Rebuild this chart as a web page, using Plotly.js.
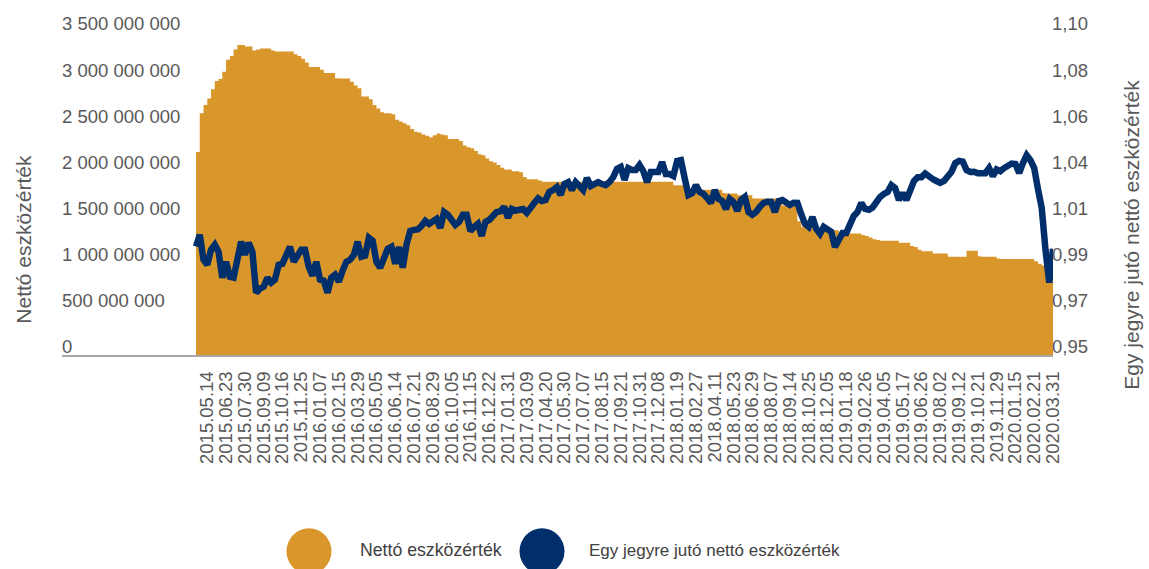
<!DOCTYPE html>
<html><head><meta charset="utf-8">
<script src="https://cdn.plot.ly/plotly-3.0.1.min.js"></script>
<style>html,body{margin:0;padding:0;background:#fff}#chart{width:1149px;height:569px}</style>
</head><body><div id="chart"></div>
<script>
const dates = [
'2015.04.23','2015.04.30','2015.05.07',
'2015.05.14','2015.05.21','2015.05.29','2015.06.05','2015.06.15',
'2015.06.23','2015.06.30','2015.07.07','2015.07.15','2015.07.22',
'2015.07.30','2015.08.07','2015.08.14','2015.08.24','2015.09.01',
'2015.09.09','2015.09.16','2015.09.23','2015.10.01','2015.10.08',
'2015.10.16','2015.10.23','2015.10.30','2015.11.09','2015.11.17',
'2015.11.25','2015.12.03','2015.12.10','2015.12.17','2015.12.29',
'2016.01.07','2016.01.14','2016.01.21','2016.01.29','2016.02.05',
'2016.02.15','2016.02.22','2016.03.01','2016.03.09','2016.03.18',
'2016.03.29','2016.04.05','2016.04.13','2016.04.20','2016.04.27',
'2016.05.05','2016.05.12','2016.05.20','2016.05.30','2016.06.06',
'2016.06.14','2016.06.21','2016.06.28','2016.07.06','2016.07.13',
'2016.07.21','2016.07.28','2016.08.04','2016.08.12','2016.08.22',
'2016.08.29','2016.09.05','2016.09.12','2016.09.20','2016.09.27',
'2016.10.05','2016.10.12','2016.10.19','2016.10.28','2016.11.07',
'2016.11.15','2016.11.22','2016.11.29','2016.12.06','2016.12.14',
'2016.12.22','2016.12.30','2017.01.09','2017.01.16','2017.01.23',
'2017.01.31','2017.02.07','2017.02.14','2017.02.21','2017.03.01',
'2017.03.09','2017.03.16','2017.03.24','2017.04.03','2017.04.10',
'2017.04.20','2017.04.27','2017.05.08','2017.05.15','2017.05.22',
'2017.05.30','2017.06.07','2017.06.14','2017.06.21','2017.06.29',
'2017.07.07','2017.07.14','2017.07.21','2017.07.31','2017.08.07',
'2017.08.15','2017.08.22','2017.08.29','2017.09.06','2017.09.13',
'2017.09.21','2017.09.28','2017.10.05','2017.10.13','2017.10.23',
'2017.10.31','2017.11.08','2017.11.15','2017.11.22','2017.11.30',
'2017.12.08','2017.12.15','2017.12.22','2018.01.04','2018.01.11',
'2018.01.19','2018.01.26','2018.02.02','2018.02.09','2018.02.19',
'2018.02.27','2018.03.06','2018.03.13','2018.03.22','2018.04.03',
'2018.04.11','2018.04.18','2018.04.25','2018.05.04','2018.05.14',
'2018.05.23','2018.05.30','2018.06.06','2018.06.13','2018.06.21',
'2018.06.29','2018.07.06','2018.07.13','2018.07.20','2018.07.30',
'2018.08.07','2018.08.14','2018.08.22','2018.08.29','2018.09.06',
'2018.09.14','2018.09.21','2018.09.28','2018.10.08','2018.10.16',
'2018.10.25','2018.11.05','2018.11.13','2018.11.20','2018.11.27',
'2018.12.05','2018.12.12','2018.12.19','2019.01.03','2019.01.10',
'2019.01.18','2019.01.25','2019.02.01','2019.02.11','2019.02.18',
'2019.02.26','2019.03.05','2019.03.12','2019.03.20','2019.03.28',
'2019.04.05','2019.04.12','2019.04.23','2019.04.30','2019.05.09',
'2019.05.17','2019.05.24','2019.06.03','2019.06.11','2019.06.18',
'2019.06.26','2019.07.03','2019.07.10','2019.07.18','2019.07.25',
'2019.08.02','2019.08.09','2019.08.16','2019.08.26','2019.09.03',
'2019.09.12','2019.09.19','2019.09.26','2019.10.03','2019.10.11',
'2019.10.21','2019.10.28','2019.11.06','2019.11.13','2019.11.20',
'2019.11.29','2019.12.06','2019.12.13','2019.12.20','2020.01.07',
'2020.01.15','2020.01.22','2020.01.29','2020.02.05','2020.02.13',
'2020.02.21','2020.02.28','2020.03.06','2020.03.13','2020.03.23',
'2020.03.31'
];

const netAssets = [
2.20e9,2.62e9,2.71e9,
2.78e9,2.88e9,2.97e9,2.99e9,3.07e9,
3.20e9,3.24e9,3.31e9,3.36e9,3.36e9,
3.344e9,3.344e9,3.30e9,3.31e9,3.32e9,
3.32e9,3.32e9,3.30e9,3.29e9,3.29e9,
3.29e9,3.29e9,3.29e9,3.26e9,3.24e9,
3.21e9,3.17e9,3.12e9,3.12e9,3.12e9,
3.09e9,3.055e9,3.055e9,3.055e9,3.00e9,
2.995e9,2.995e9,2.995e9,2.96e9,2.92e9,
2.89e9,2.80e9,2.80e9,2.77e9,2.71e9,
2.67e9,2.63e9,2.62e9,2.62e9,2.61e9,
2.55e9,2.53e9,2.51e9,2.49e9,2.45e9,
2.42e9,2.41e9,2.39e9,2.375e9,2.36e9,
2.38e9,2.40e9,2.39e9,2.38e9,2.34e9,
2.34e9,2.34e9,2.32e9,2.27e9,2.25e9,
2.24e9,2.21e9,2.175e9,2.165e9,2.13e9,
2.10e9,2.085e9,2.06e9,2.03e9,2.01e9,
2.01e9,1.99e9,1.99e9,1.98e9,1.93e9,
1.905e9,1.905e9,1.905e9,1.89e9,1.876e9,
1.876e9,1.876e9,1.876e9,1.876e9,1.876e9,
1.876e9,1.876e9,1.876e9,1.876e9,1.876e9,
1.876e9,1.876e9,1.876e9,1.876e9,1.876e9,
1.876e9,1.876e9,1.876e9,1.876e9,1.876e9,
1.876e9,1.876e9,1.876e9,1.876e9,1.876e9,
1.876e9,1.876e9,1.876e9,1.876e9,1.876e9,
1.876e9,1.876e9,1.876e9,1.876e9,1.84e9,
1.84e9,1.84e9,1.84e9,1.79e9,1.79e9,
1.79e9,1.79e9,1.79e9,1.79e9,1.79e9,
1.79e9,1.79e9,1.755e9,1.75e9,1.75e9,
1.75e9,1.73e9,1.73e9,1.73e9,1.73e9,
1.696e9,1.696e9,1.696e9,1.696e9,1.696e9,
1.696e9,1.696e9,1.65e9,1.62e9,1.62e9,
1.62e9,1.62e9,1.45e9,1.39e9,1.39e9,
1.39e9,1.39e9,1.37e9,1.353e9,1.353e9,
1.353e9,1.353e9,1.353e9,1.317e9,1.317e9,
1.317e9,1.317e9,1.317e9,1.317e9,1.30e9,
1.29e9,1.274e9,1.255e9,1.245e9,1.237e9,
1.237e9,1.237e9,1.237e9,1.237e9,1.215e9,
1.215e9,1.215e9,1.18e9,1.17e9,1.14e9,
1.125e9,1.125e9,1.125e9,1.10e9,1.10e9,
1.10e9,1.10e9,1.064e9,1.064e9,1.064e9,
1.064e9,1.064e9,1.129e9,1.129e9,1.129e9,
1.07e9,1.064e9,1.064e9,1.064e9,1.064e9,
1.045e9,1.039e9,1.039e9,1.039e9,1.039e9,
1.039e9,1.039e9,1.039e9,1.039e9,1.039e9,
1.015e9,0.99e9,0.97e9,0.95e9,0.95e9,
0.95e9
];

const navPerUnit = [
1.0004,1.0058,0.9942,
0.9919,0.9989,1.0012,0.9979,0.9859,
0.9933,0.9863,0.9859,0.9933,1.0026,
0.9965,1.0021,0.9979,0.9789,0.9808,
0.9817,0.9859,0.9836,0.9850,0.9919,
0.9924,0.9965,1.0002,0.9933,0.9965,
0.9989,0.9989,0.9910,0.9868,0.9933,
0.9850,0.9845,0.9789,0.9859,0.9873,
0.9840,0.9891,0.9933,0.9942,0.9965,
1.0026,0.9956,0.9961,1.0044,1.0030,
0.9933,0.9905,0.9951,0.9993,1.0002,
0.9924,1.0002,0.9905,1.0012,1.0076,
1.0081,1.0083,1.0100,1.0123,1.0109,
1.0118,1.0132,1.0090,1.0164,1.0151,
1.0127,1.0104,1.0118,1.0151,1.0151,
1.0076,1.0095,1.0109,1.0053,1.0118,
1.0127,1.0141,1.0164,1.0167,1.0188,
1.0137,1.0178,1.0171,1.0178,1.0178,
1.0160,1.0178,1.0206,1.0227,1.0215,
1.0220,1.0257,1.0266,1.0280,1.0243,
1.0294,1.0303,1.0266,1.0303,1.0280,
1.0266,1.0322,1.0285,1.0294,1.0303,
1.0294,1.0289,1.0303,1.0326,1.0364,
1.0373,1.0313,1.0368,1.0359,1.0359,
1.0382,1.0354,1.0303,1.0350,1.0350,
1.0350,1.0396,1.0340,1.0340,1.0331,
1.0401,1.0405,1.0322,1.0243,1.0252,
1.0289,1.0257,1.0248,1.0229,1.0206,
1.0266,1.0225,1.0215,1.0178,1.0225,
1.0211,1.0169,1.0220,1.0234,1.0164,
1.0151,1.0164,1.0188,1.0206,1.0212,
1.0211,1.0164,1.0215,1.0220,1.0206,
1.0197,1.0207,1.0206,1.0155,1.0109,
1.0095,1.0141,1.0086,1.0063,1.0095,
1.0081,1.0072,1.0002,1.0044,1.0067,
1.0067,1.0109,1.0146,1.0164,1.0206,
1.0178,1.0174,1.0185,1.0211,1.0234,
1.0248,1.0257,1.0289,1.0276,1.0220,
1.0252,1.0220,1.0271,1.0308,1.0326,
1.0326,1.0343,1.0326,1.0317,1.0308,
1.0299,1.0308,1.0326,1.0351,1.0391,
1.0401,1.0398,1.0359,1.0350,1.0351,
1.0344,1.0346,1.0344,1.0368,1.0331,
1.0362,1.0354,1.0368,1.0377,1.0389,
1.0387,1.0345,1.0391,1.0428,1.0405,
1.0368,1.0271,1.0183,0.9989,0.9836,
0.9993
];

const tickLabels = [
'2015.05.14','2015.06.23','2015.07.30','2015.09.09','2015.10.16','2015.11.25',
'2016.01.07','2016.02.15','2016.03.29','2016.05.05','2016.06.14','2016.07.21',
'2016.08.29','2016.10.05','2016.11.15','2016.12.22','2017.01.31','2017.03.09',
'2017.04.20','2017.05.30','2017.07.07','2017.08.15','2017.09.21','2017.10.31',
'2017.12.08','2018.01.19','2018.02.27','2018.04.11','2018.05.23','2018.06.29',
'2018.08.07','2018.09.14','2018.10.25','2018.12.05','2019.01.18','2019.02.26',
'2019.04.05','2019.05.17','2019.06.26','2019.08.02','2019.09.12','2019.10.21',
'2019.11.29','2020.01.15','2020.02.21','2020.03.31'
];

const seriesNames = ['Nettó eszközérték', 'Egy jegyre jutó nettó eszközérték'];
const axisTitles = ['Nettó eszközérték', 'Egy jegyre jutó nettó eszközérték'];
const colors = ['#D9962B', '#002F6C'];

const FONT = 'Liberation Sans, Arial, sans-serif';
const GREY = '#595959';
const TICK = 18.5;

const traces = [
  {
    type: 'scatter', mode: 'lines', name: seriesNames[0],
    x: dates, y: netAssets, yaxis: 'y',
    line: {width: 0, shape: 'hv', color: colors[0]},
    fill: 'tozeroy', fillcolor: colors[0],
    hoverinfo: 'x+y'
  },
  {
    type: 'scatter', mode: 'lines', name: seriesNames[1],
    x: dates, y: navPerUnit, yaxis: 'y2',
    line: {width: 6.5, color: colors[1], shape: 'linear'},
    hoverinfo: 'x+y'
  }
];

const L = 62, R = 1053, T = 32, B = 355.5;
const px = v => (v - L) / (R - L);
const py = v => (B - v) / (B - T);

const layout = {
  width: 1149, height: 569,
  margin: {l: L, r: 1149 - R, t: T, b: 569 - B, pad: 0},
  paper_bgcolor: '#ffffff', plot_bgcolor: '#ffffff',
  separators: ', ',
  showlegend: false,
  font: {family: FONT, size: TICK, color: GREY},
  xaxis: {
    type: 'category',
    range: [-35.65, dates.length - 1],
    tickmode: 'array', tickvals: tickLabels, ticktext: tickLabels,
    tickangle: -90, ticks: '', showgrid: false, zeroline: false,
    showline: true, linecolor: '#a6a6a6', linewidth: 2,
    ticklabelstandoff: 7,
    tickfont: {family: FONT, size: TICK, color: GREY}
  },
  yaxis: {
    range: [0, 3.5e9], tickmode: 'linear', tick0: 0, dtick: 5e8,
    tickformat: ',d', showgrid: false, zeroline: false, showline: false, ticks: '',
    ticklabelposition: 'inside', ticklabelshift: -8, ticklabeloverflow: 'allow',
    ticklabelstandoff: -3,
    tickfont: {family: FONT, size: TICK, color: GREY}
  },
  yaxis2: {
    overlaying: 'y', side: 'right',
    range: [0.95, 1.10], tickmode: 'linear', tick0: 0.95, dtick: 0.15 / 7,
    tickformat: '.2f', showgrid: false, zeroline: false, showline: false, ticks: '',
    ticklabelshift: -8, ticklabeloverflow: 'allow', ticklabelstandoff: -2,
    tickfont: {family: FONT, size: TICK, color: GREY}
  },
  shapes: [
    {type: 'circle', xref: 'paper', yref: 'paper', xsizemode: 'pixel', ysizemode: 'pixel',
     xanchor: px(309), yanchor: py(552), x0: -22.5, x1: 22.5, y0: -23, y1: 23,
     fillcolor: colors[0], line: {width: 0}},
    {type: 'circle', xref: 'paper', yref: 'paper', xsizemode: 'pixel', ysizemode: 'pixel',
     xanchor: px(542), yanchor: py(552), x0: -22.5, x1: 22.5, y0: -23, y1: 23,
     fillcolor: colors[1], line: {width: 0}}
  ],
  annotations: [
    {xref: 'paper', yref: 'paper', x: px(24), y: py(240), text: axisTitles[0], textangle: -90,
     showarrow: false, xanchor: 'center', yanchor: 'middle',
     font: {family: FONT, size: 21, color: GREY}},
    {xref: 'paper', yref: 'paper', x: px(1132), y: py(235), text: axisTitles[1], textangle: -90,
     showarrow: false, xanchor: 'center', yanchor: 'middle',
     font: {family: FONT, size: 21, color: GREY}},
    {xref: 'paper', yref: 'paper', x: px(358), y: py(551), text: seriesNames[0],
     showarrow: false, xanchor: 'left', yanchor: 'middle',
     font: {family: FONT, size: 17.7, color: '#404040'}},
    {xref: 'paper', yref: 'paper', x: px(587), y: py(551), text: seriesNames[1],
     showarrow: false, xanchor: 'left', yanchor: 'middle',
     font: {family: FONT, size: 17, color: '#404040'}}
  ]
};

Plotly.newPlot('chart', traces, layout, {displayModeBar: false, staticPlot: true});
</script>
</body></html>
